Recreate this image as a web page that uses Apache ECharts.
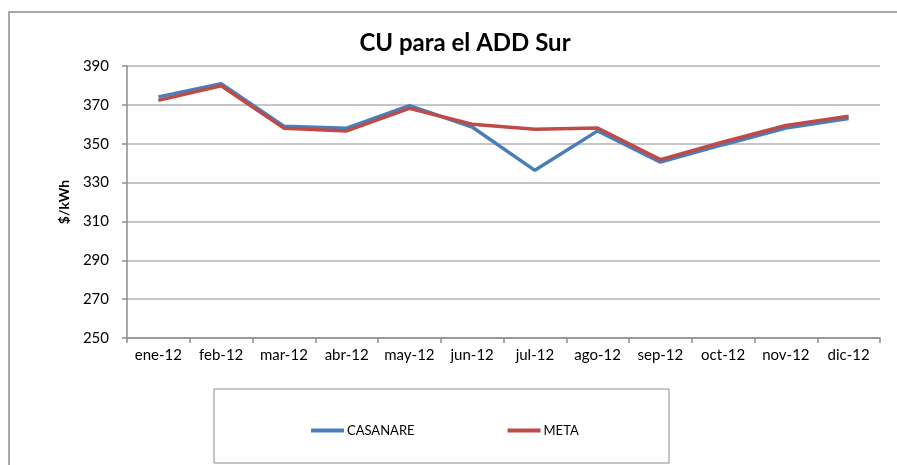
<!DOCTYPE html>
<html>
<head>
<meta charset="utf-8">
<script src="https://cdn.jsdelivr.net/npm/echarts@6/dist/echarts.min.js"></script>
<style>
  html, body { margin: 0; padding: 0; background: #fff; }
  #main { width: 897px; height: 465px; }
</style>
</head>
<body>
<div id="main"></div>
<script>
var meses = ['ene-12', 'feb-12', 'mar-12', 'abr-12', 'may-12', 'jun-12', 'jul-12', 'ago-12', 'sep-12', 'oct-12', 'nov-12', 'dic-12'];
var casanare = [374.1, 380.9, 359.0, 358.0, 369.6, 358.6, 336.3, 356.6, 340.5, 349.5, 358.1, 363.0];
var meta = [372.3, 379.8, 358.0, 356.6, 368.2, 360.0, 357.4, 358.1, 341.8, 350.9, 359.4, 364.2];

var myChart = echarts.init(document.getElementById('main'));
var fuente = 'Lato';
var option = {
	animation: false,
	backgroundColor: '#ffffff',
	title: {
		text: 'CU para el ADD Sur',
		left: 460,
		top: 26,
		textAlign: 'center',
		textStyle: {
			fontFamily: fuente,
			fontSize: 24,
			fontWeight: 'bold',
			color: '#000000'
		}
	},
	graphic: [
		{
			// marco exterior (solo se ven borde izquierdo y superior)
			type: 'rect',
			shape: { x: 9, y: 12, width: 900, height: 470 },
			style: { fill: 'none', stroke: '#8c8c8c', lineWidth: 1.5 },
			silent: true
		},
		{
			// caja de la leyenda
			type: 'rect',
			shape: { x: 214, y: 389, width: 455, height: 74 },
			style: { fill: 'none', stroke: '#8c8c8c', lineWidth: 1 },
			silent: true
		}
	],
	legend: {
		left: 306,
		top: 419,
		itemWidth: 33,
		itemHeight: 4,
		itemGap: 93,
		icon: 'rect',
		textStyle: {
			fontFamily: fuente,
			fontSize: 13,
			color: '#000000',
			padding: [0, 0, 0, -2]
		},
		data: ['CASANARE', 'META']
	},
	grid: {
		left: 127,
		right: 17,
		top: 66,
		bottom: 127
	},
	xAxis: {
		type: 'category',
		data: meses,
		boundaryGap: true,
		axisLine: { lineStyle: { color: '#8c8c8c', width: 1.5 } },
		axisTick: { show: true, length: 5, interval: 0, lineStyle: { color: '#8c8c8c', width: 1.5 } },
		axisLabel: {
			interval: 0,
			hideOverlap: false,
			fontFamily: fuente,
			fontSize: 15,
			color: '#000000',
			margin: 10
		}
	},
	yAxis: {
		type: 'value',
		min: 250,
		max: 390,
		interval: 20,
		name: '$/kWh',
		nameLocation: 'middle',
		nameGap: 56,
		nameTextStyle: {
			fontFamily: fuente,
			fontSize: 14,
			fontWeight: 'bold',
			color: '#000000'
		},
		axisLine: { show: true, lineStyle: { color: '#8c8c8c', width: 1.5 } },
		axisTick: { show: true, length: 5, lineStyle: { color: '#8c8c8c', width: 1.5 } },
		axisLabel: {
			fontFamily: fuente,
			fontSize: 15,
			color: '#000000',
			margin: 18
		},
		splitLine: { lineStyle: { color: '#b3b3b3', width: 1.5 } }
	},
	series: [
		{
			name: 'CASANARE',
			type: 'line',
			data: casanare,
			symbol: 'none',
			itemStyle: { color: '#4a7ebb' },
			lineStyle: { color: '#4a7ebb', width: 3.5 },
			z: 2
		},
		{
			name: 'META',
			type: 'line',
			data: meta,
			symbol: 'none',
			itemStyle: { color: '#be4b48' },
			lineStyle: { color: '#be4b48', width: 3.5 },
			z: 3
		}
	]
};
myChart.setOption(option);
</script>
</body>
</html>
